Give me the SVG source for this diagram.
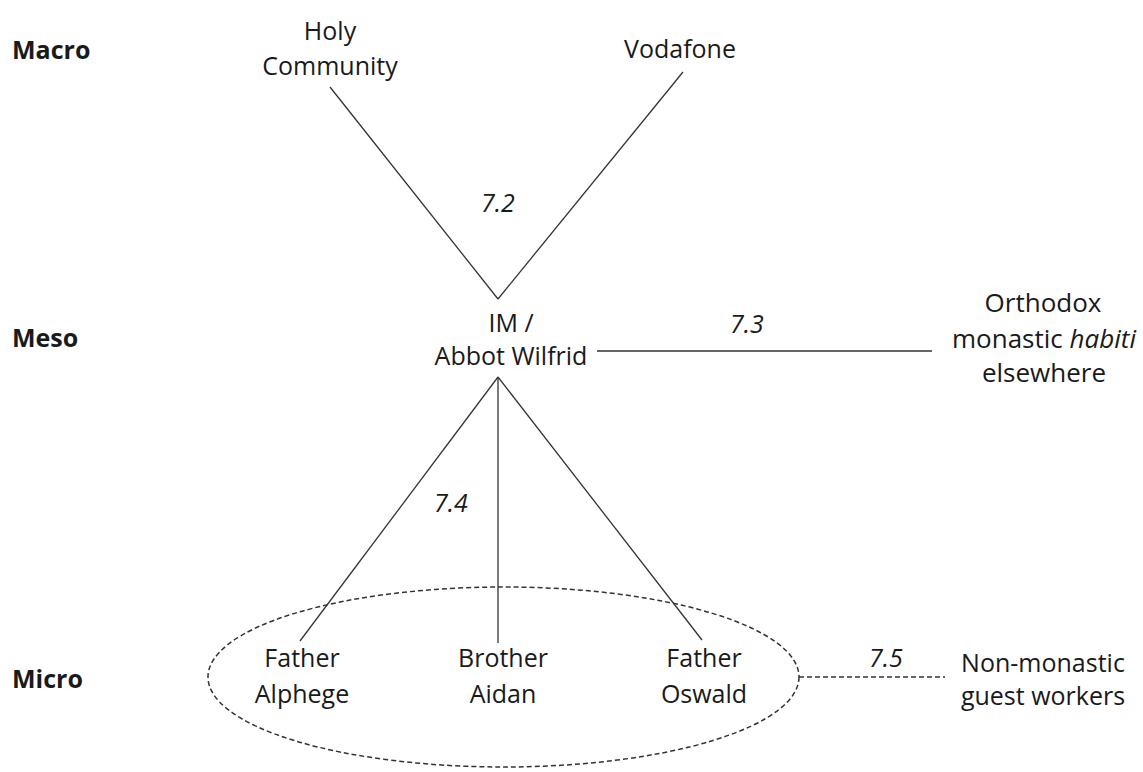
<svg xmlns="http://www.w3.org/2000/svg" width="1143" height="772" viewBox="0 0 1143 772">
<style>
text{font-family:"Open Sans","DejaVu Sans",sans-serif;font-size:25px;fill:#1a1a1a;text-anchor:middle}
.lvl{font-weight:bold;text-anchor:start}
.num{font-style:italic}
.big{font-size:26px}
.ln{stroke:#333;stroke-width:1.3;fill:none}
.dash{stroke:#333;stroke-width:1.5;fill:none;stroke-dasharray:5 3}
</style>
<rect width="1143" height="772" fill="#fff"/>
<g id="levels">
<text class="lvl" x="12" y="59">Macro</text>
<text class="lvl" x="12" y="347">Meso</text>
<text class="lvl" x="12" y="688">Micro</text>
</g>
<g id="connectors">
<line class="ln" x1="330" y1="87" x2="498" y2="299"/>
<line class="ln" x1="683" y1="72" x2="498" y2="299"/>
<line class="ln" x1="597" y1="351" x2="932" y2="351"/>
<line class="ln" x1="498" y1="377" x2="300" y2="641"/>
<line class="ln" x1="498" y1="377" x2="498" y2="643"/>
<line class="ln" x1="498" y1="377" x2="702" y2="640"/>
<line class="dash" x1="799" y1="677" x2="945" y2="677"/>
<text class="num" x="498" y="212">7.2</text>
<text class="num" x="747" y="333">7.3</text>
<text class="num" x="451" y="512">7.4</text>
<text class="num" x="886" y="667">7.5</text>
</g>
<g id="micro-group">
<ellipse class="dash" cx="503.5" cy="677" rx="295.5" ry="90"/>
</g>
<g id="holy-community"><text x="330" y="40">Holy</text><text x="330" y="75">Community</text></g>
<g id="vodafone"><text x="680" y="58">Vodafone</text></g>
<g id="im-abbot"><text x="511" y="332">IM /</text><text x="511" y="365">Abbot Wilfrid</text></g>
<g id="orthodox" class="big"><text class="big" x="1043" y="312">Orthodox</text><text class="big" x="1044" y="348">monastic <tspan font-style="italic">habiti</tspan></text><text class="big" x="1044" y="382">elsewhere</text></g>
<g id="father-alphege"><text x="302" y="667">Father</text><text x="302" y="703">Alphege</text></g>
<g id="brother-aidan"><text x="503" y="667">Brother</text><text x="503" y="703">Aidan</text></g>
<g id="father-oswald"><text x="704" y="667">Father</text><text x="704" y="703">Oswald</text></g>
<g id="guest-workers"><text x="1043" y="672">Non-monastic</text><text x="1043" y="705">guest workers</text></g>
</svg>
